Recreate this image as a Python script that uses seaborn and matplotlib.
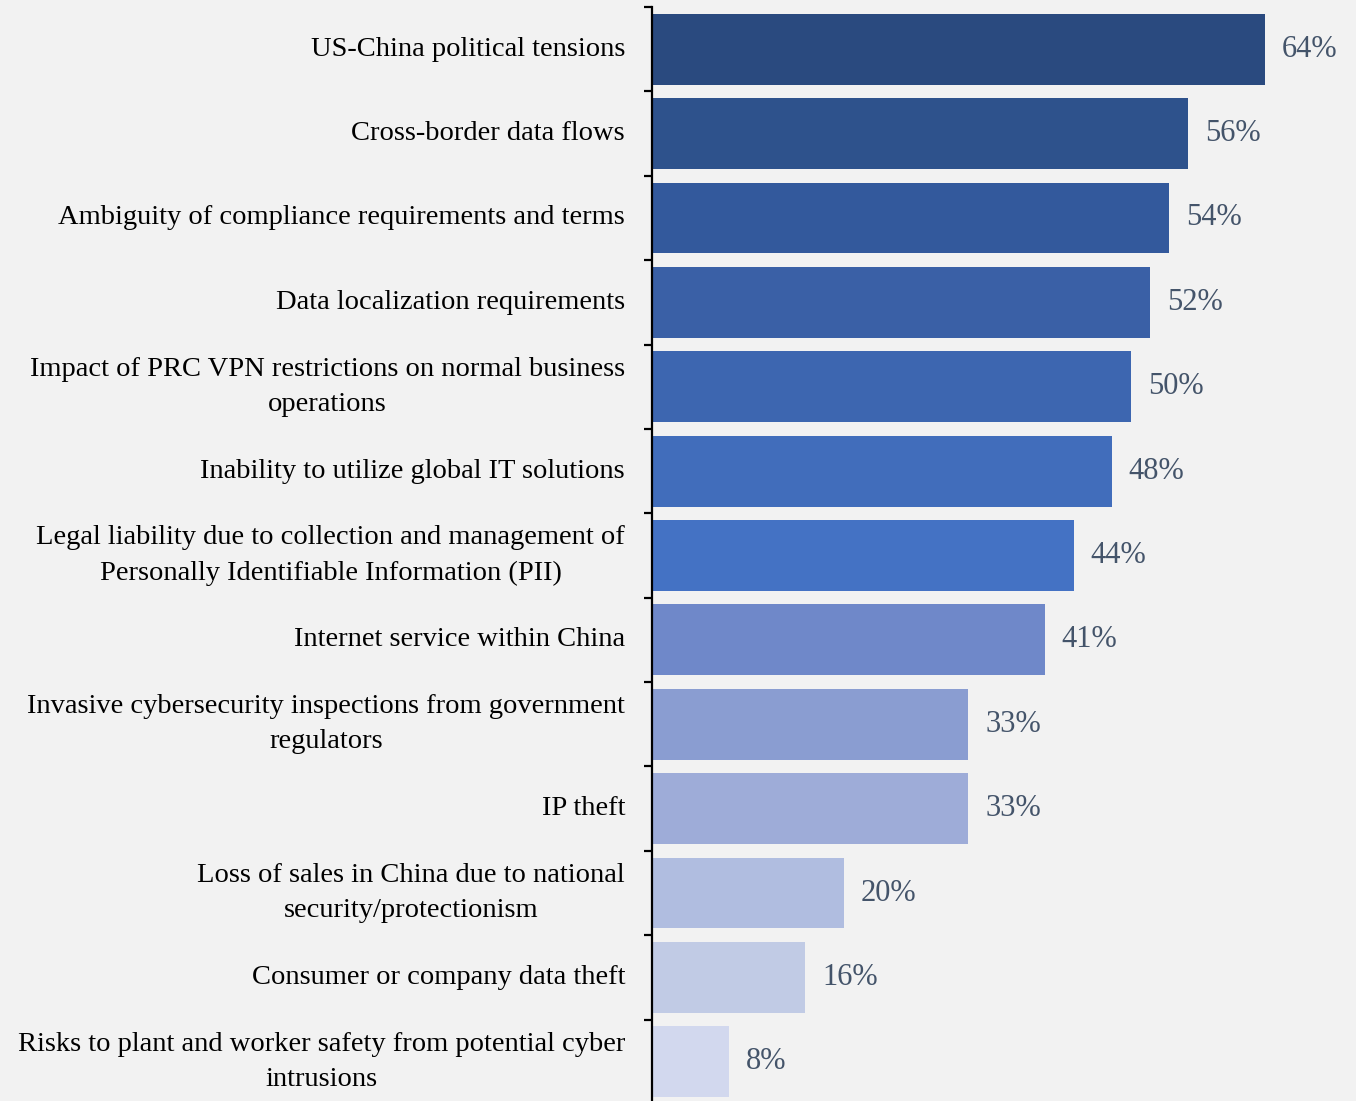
import matplotlib
matplotlib.use("Agg")
import matplotlib.pyplot as plt
import seaborn as sns
import pandas as pd

categories = [
    "US-China political tensions",
    "Cross-border data flows",
    "Ambiguity of compliance requirements and terms",
    "Data localization requirements",
    "Impact of PRC VPN restrictions on normal business\noperations",
    "Inability to utilize global IT solutions",
    "Legal liability due to collection and management of\nPersonally Identifiable Information (PII)",
    "Internet service within China",
    "Invasive cybersecurity inspections from government\nregulators",
    "IP theft",
    "Loss of sales in China due to national\nsecurity/protectionism",
    "Consumer or company data theft",
    "Risks to plant and worker safety from potential cyber\nintrusions",
]
values = [64, 56, 54, 52, 50, 48, 44, 41, 33, 33, 20, 16, 8]
value_labels = ["64%", "56%", "54%", "52%", "50%", "48%", "44%", "41%", "33%", "33%", "20%", "16%", "8%"]
bar_colors = [
    "#2a4a7f", "#2e528c", "#33599c", "#3a60a6", "#3d66b0", "#416dbb", "#4472c4",
    "#6f88c9", "#8a9dd1", "#9eacd8", "#b0bde0", "#c1cbe5", "#d2d8ee",
]

df = pd.DataFrame({"category": categories, "value": values})

sns.set_theme(style="white")
plt.rcParams["font.family"] = ["Liberation Serif", "DejaVu Serif"]

fig = plt.figure(figsize=(13.56, 11.01), dpi=100, facecolor="#f2f2f2")
ax = fig.add_axes([652 / 1356, -3 / 1101, 1 - 652 / 1356, 1097 / 1101])
ax.set_facecolor("#f2f2f2")

sns.barplot(data=df, x="value", y="category", hue="category", palette=bar_colors,
            orient="h", width=0.84, legend=False, saturation=1, linewidth=0, ax=ax)

ax.set_xlim(0, 704 / 9.58)
ax.set_ylim(len(categories) - 0.5, -0.5)

for s in ["top", "right", "bottom"]:
    ax.spines[s].set_visible(False)
ax.spines["left"].set_color("black")
ax.spines["left"].set_linewidth(1.6)

ax.set_xticks([])
ax.set_yticks([i - 0.5 for i in range(len(categories) + 1)])
ax.set_yticklabels([])
ax.tick_params(axis="y", direction="out", length=5.5, width=1.6, color="black", left=True)
ax.set_xlabel("")
ax.set_ylabel("")

for i, cat in enumerate(categories):
    ax.annotate(cat, xy=(0, i), xycoords=("axes fraction", "data"),
                xytext=(-27, 0), textcoords="offset pixels",
                ha="right", va="center", multialignment="center",
                fontsize=20.5, color="black", linespacing=1.55)

for i, (v, lab) in enumerate(zip(values, value_labels)):
    ax.annotate(lab, xy=(v, i), xycoords="data",
                xytext=(17, 0), textcoords="offset pixels",
                ha="left", va="center", fontsize=22, color="#44546a")

fig.savefig("out.png", dpi=100, facecolor=fig.get_facecolor())
